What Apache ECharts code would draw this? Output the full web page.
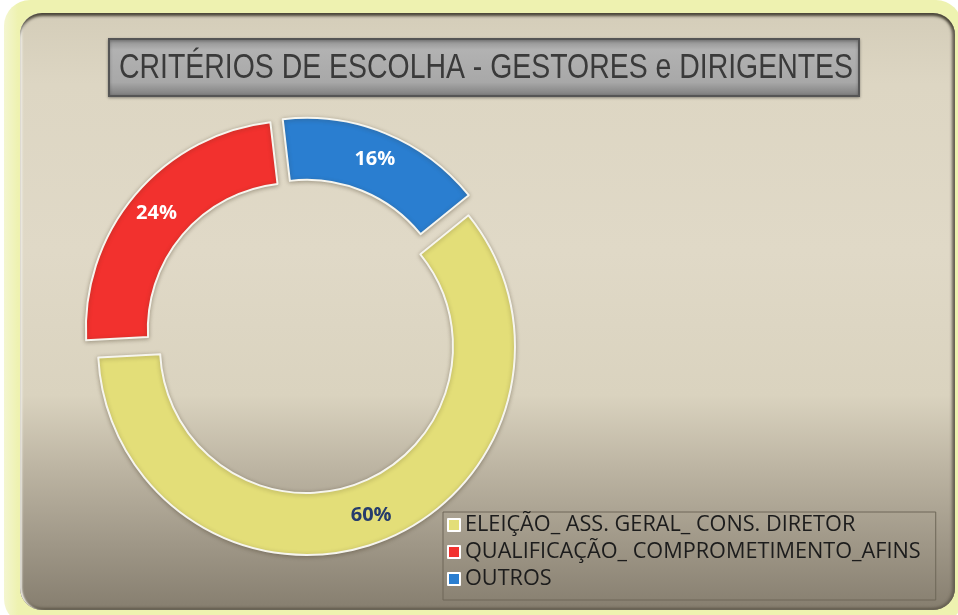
<!DOCTYPE html>
<html>
<head>
<meta charset="utf-8">
<script src="https://cdn.jsdelivr.net/npm/echarts@6/dist/echarts.min.js"></script>
<style>
  html, body { margin: 0; padding: 0; width: 958px; height: 615px; overflow: hidden; background: #ffffff; }
  #glow { position: absolute; left: 4px; top: 0px; width: 958px; height: 625px; border-radius: 26px;
          background: linear-gradient(to right, #f4f6d0 0px, #eef2b0 14px, #eef2b0 100%); }
  #panel { position: absolute; left: 20px; top: 13px; width: 935px; height: 597px; border-radius: 22px;
           background: linear-gradient(to bottom, #d4cdb9 0%, #ddd6c3 12%, #e0d9c7 40%, #dad3bf 64%, #bdb5a3 76%, #9f9787 89%, #867e6f 100%);
           box-shadow: inset 0 4px 3px -1px #4a4538, inset -4px 0 3px -1px #6a6456, inset 3px 0 2px -1px #f8f6ee, inset 0 -3px 3px -1px #5e5749; }
  #chart { position: absolute; left: 0; top: 0; width: 958px; height: 615px; }
</style>
</head>
<body>
<div id="glow"></div>
<div id="panel"></div>
<div id="chart"></div>
<script>
const titleText = 'CRITÉRIOS DE ESCOLHA - GESTORES e DIRIGENTES';
const categories = ['ELEIÇÃO_ ASS. GERAL_ CONS. DIRETOR', 'QUALIFICAÇÃO_ COMPROMETIMENTO_AFINS', 'OUTROS'];
const values = [60, 24, 16];
const colors = ['#e3de78', '#f2312e', '#2a7ed0'];
const labelColors = ['#263c6c', '#ffffff', '#ffffff'];

// measure text to fit the reference's condensed fonts
const mctx = document.createElement('canvas').getContext('2d');
const titleFont = '"Liberation Sans", Arial, sans-serif';
mctx.font = '35px ' + titleFont;
const titleScale = 734 / mctx.measureText(titleText).width;
const legendFont = '"Open Sans", "Noto Sans", sans-serif';
mctx.font = '20px ' + legendFont;
const legendSize = 20 * 456 / mctx.measureText(categories[1]).width;
const legendTextW = 456;
const legendPadRight = 492 - 4 - 12 - 5 - legendTextW;

const chart = echarts.init(document.getElementById('chart'), null, { renderer: 'canvas' });
chart.setOption({
  backgroundColor: 'transparent',
  animation: false,
  graphic: [{
    type: 'group',
    left: 108,
    top: 38,
    children: [{
      type: 'rect',
      shape: { x: 0, y: 0, width: 750, height: 57 },
      style: {
        fill: {
          type: 'linear', x: 0, y: 0, x2: 0, y2: 1,
          colorStops: [
            { offset: 0, color: '#8a8a8a' },
            { offset: 0.2, color: '#b2b2b2' },
            { offset: 0.75, color: '#a8a8a8' },
            { offset: 1, color: '#7a7a7a' }
          ]
        },
        stroke: '#555555',
        lineWidth: 2,
        shadowBlur: 3,
        shadowColor: 'rgba(0,0,0,0.3)',
        shadowOffsetY: 1
      }
    }, {
      type: 'text',
      x: 10,
      y: 29,
      scaleX: titleScale,
      style: {
        text: titleText,
        font: '35px ' + titleFont,
        fill: '#3a3a3a',
        textVerticalAlign: 'middle',
        verticalAlign: 'middle'
      }
    }]
  }],
  legend: {
    orient: 'vertical',
    left: 443,
    top: 512,
    padding: [1, legendPadRight, 9, 4],
    itemGap: 3,
    itemWidth: 12,
    itemHeight: 12,
    icon: 'rect',
    borderColor: '#6e6758',
    borderWidth: 1,
    selectedMode: false,
    itemStyle: { borderColor: '#ffffff', borderWidth: 2 },
    textStyle: {
      fontFamily: legendFont,
      fontSize: legendSize,
      lineHeight: 24,
      color: '#1c1c1c'
    },
    data: categories
  },
  series: [{
    type: 'pie',
    center: [302.6, 336.4],
    radius: [146.5, 208.5],
    startAngle: 39,
    clockwise: true,
    selectedMode: 'multiple',
    selectedOffset: 10.8,
    avoidLabelOverlap: false,
    emphasis: { disabled: true },
    select: { itemStyle: { borderColor: '#f6f5ee', borderWidth: 2 } },
    itemStyle: {
      borderColor: '#f6f5ee',
      borderWidth: 2,
      shadowBlur: 4,
      shadowColor: 'rgba(60,50,30,0.35)',
      shadowOffsetY: 1
    },
    label: {
      show: true,
      position: 'inside',
      formatter: '{c}%',
      fontFamily: '"Open Sans", "Noto Sans", sans-serif',
      fontSize: 20,
      fontWeight: 'bold'
    },
    labelLine: { show: false },
    data: categories.map((name, i) => ({
      name: name,
      value: values[i],
      selected: true,
      itemStyle: { color: colors[i] },
      label: { color: labelColors[i] }
    }))
  }]
});
</script>
</body>
</html>
